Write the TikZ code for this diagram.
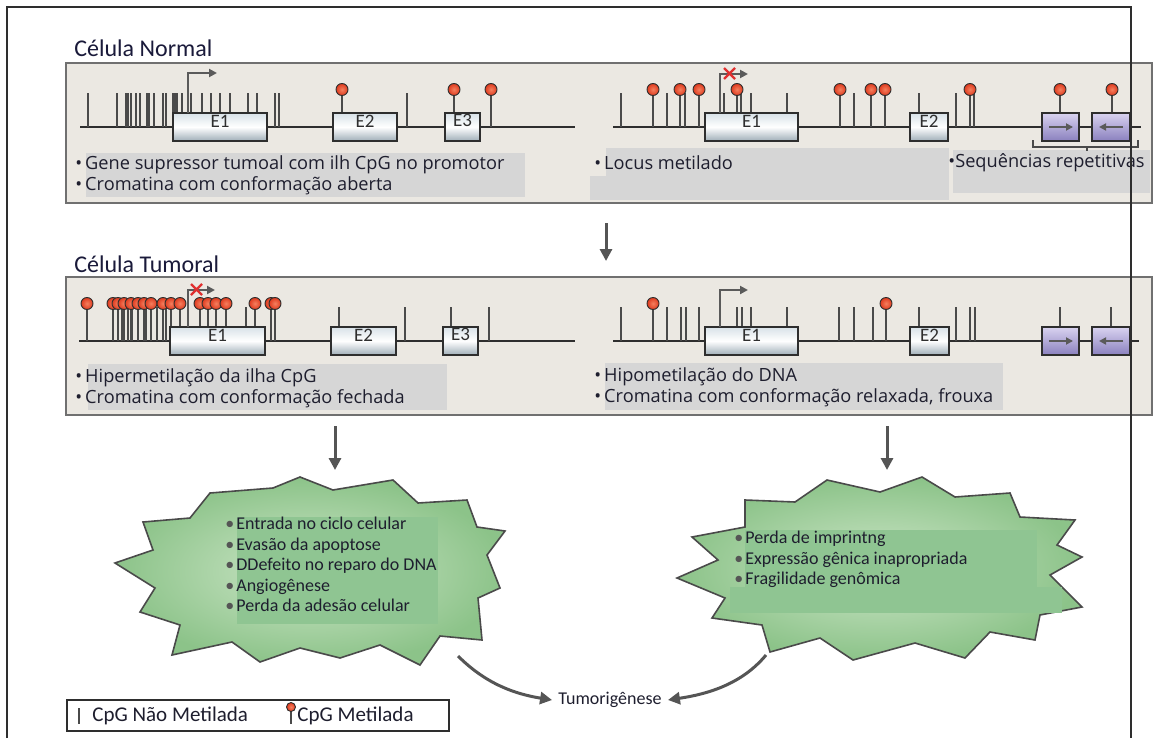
\documentclass[tikz,border=0pt]{standalone}
\usepackage{fontspec}
\setmainfont{Carlito}
\newfontfamily\bulfont{Open Sans}
\usetikzlibrary{arrows.meta, positioning, fit, calc}
\definecolor{panelbg}{HTML}{EBE8E2}
\definecolor{panelln}{HTML}{707070}
\definecolor{hlgray}{HTML}{D6D6D6}
\definecolor{dnaln}{HTML}{2E2E2E}
\definecolor{cpgln}{HTML}{4A4A4A}
\definecolor{cpgin}{HTML}{F5805F}
\definecolor{cpgout}{HTML}{DE3A1E}
\definecolor{exontop}{HTML}{D8E2E8}
\definecolor{exonbot}{HTML}{9FAEB8}
\definecolor{reptop}{HTML}{D9D3F0}
\definecolor{repbot}{HTML}{8A80BE}
\definecolor{tssgray}{HTML}{5A5A5A}
\definecolor{xred}{HTML}{E03030}
\definecolor{txtdark}{HTML}{1E1E2E}
\definecolor{titlecol}{HTML}{1A1A3A}
\definecolor{arrgray}{HTML}{555555}
\definecolor{burstin}{HTML}{CDE6C8}
\definecolor{burstout}{HTML}{8CC389}
\definecolor{burstln}{HTML}{4A4A4A}
\definecolor{effgreen}{HTML}{8FC592}

\begin{document}
\begin{tikzpicture}[x=0.5pt, y=-0.5pt,
      panel/.style={draw=panelln, line width=1pt, fill=panelbg, inner sep=0pt},
      dna/.style={draw=dnaln, line width=1pt},
      cpg/.style={draw=cpgln, line width=0.7pt},
      meth/.style={inner color=cpgin, outer color=cpgout, draw=dnaln, line width=0.45pt},
      exon/.style={draw=dnaln, line width=0.8pt, top color=exontop, bottom color=exonbot,
                   middle color=white, inner sep=0pt, text=dnaln, font=\fontsize{9.5}{10}\selectfont},
      rep/.style={draw=dnaln, line width=0.8pt, top color=reptop, bottom color=repbot, inner sep=0pt},
      reparr/.style={draw=tssgray, line width=1pt, -{Triangle[length=3.5pt,width=3.5pt]}},
      tss/.style={draw=tssgray, line width=1.2pt, -{Triangle[length=4pt,width=4pt]}},
      xmark/.style={draw=xred, line width=1.2pt},
      hl/.style={fill=hlgray},
      bul/.style={anchor=west, inner sep=0pt, text=txtdark, font={\bulfont\fontsize{9.1}{10}\selectfont}},
      title/.style={anchor=west, inner sep=0pt, text=titlecol, font=\fontsize{12}{14}\selectfont},
      bigarr/.style={draw=arrgray, line width=1.5pt, -{Triangle[length=6pt,width=6pt]}},
      burst/.style={draw=burstln, line width=0.8pt, inner color=burstin, outer color=burstout},
      effect/.style={anchor=north west, inner sep=0pt, align=left, text=txtdark,
                     font=\fontsize{9}{10.25}\selectfont}]
    \useasboundingbox (0,0) rectangle (1159,738);
    \fill[white] (0,0) rectangle (1159,738);

    % panels
    \node[title] (tNormal) at (74,48) {Célula Normal};
    \node[panel, fit={(66,63) (1152,203)}] (normal) {};
    \node[title] (tTumor) at (74,264) {Célula Tumoral};
    \node[panel, fit={(66,277) (1152,415)}] (tumoral) {};

    \fill[hl] (86,153) rectangle (525,197);
    \fill[hl] (606,148) rectangle (949,200);
    \fill[hl] (590,176) rectangle (949,200);
    \fill[hl] (953,150) rectangle (1150,193);
    \fill[hl] (88,364) rectangle (447,410);
    \fill[hl] (605,363) rectangle (1003,410);

    % normal cell, tumour suppressor gene
    \begin{scope}[shift={(0,127)}]
      \draw[dna] (80,0) -- (575,0);
      \foreach \x in {88,117,126,128,131,136,140,147,149,154,163,166,173,175,177,182,
                      191,202,211,220,230,248,257,275,279,407}
        \draw[cpg] (\x,0) -- (\x,-34);
      \foreach \x in {342,454,491} {
        \draw[cpg] (\x,0) -- (\x,-33);
        \shadedraw[meth] (\x,-37.5) circle (6);
      }
      \node[exon, fit={(173,-14) (267,14)}] (nE1) {E1};
      \node[exon, fit={(333,-14) (397,14)}] (nE2) {E2};
      \node[exon, fit={(445,-14) (480,14)}] (nE3) {E3};
      \draw[tss] (188,-14) -- (188,-54) -- (217,-54);
    \end{scope}

    % normal cell, methylated locus and repeats
    \begin{scope}[shift={(0,127)}]
      \draw[dna] (613,0) -- (1141,0);
      \foreach \x in {621,667,685,724,741,751,787,854,919,956,974}
        \draw[cpg] (\x,0) -- (\x,-34);
      \foreach \x in {653,680,699,737,840,871,885,970,1060,1112} {
        \draw[cpg] (\x,0) -- (\x,-33);
        \shadedraw[meth] (\x,-37.5) circle (6);
      }
      \node[exon, fit={(705,-14) (798,14)}] (mE1) {E1};
      \node[exon, fit={(910,-14) (948,14)}] (mE2) {E2};
      \node[rep, fit={(1042,-14) (1079,14)}] (mR1) {};
      \node[rep, fit={(1092,-14) (1130,14)}] (mR2) {};
      \draw[reparr] (1049,0) -- (1073,0);
      \draw[reparr] (1123,0) -- (1099,0);
      \draw[cpgln, line width=0.7pt] (1033,13) -- (1033,20) -- (1138,20) -- (1138,13)
                                     (1087,20) -- (1087,24);
      \draw[tss] (720,-14) -- (720,-53) -- (748,-53);
      \draw[xmark] (724,-59) -- (735,-48) (724,-48) -- (735,-59);
    \end{scope}

    % tumour cell, hypermethylated island
    \begin{scope}[shift={(0,341)}]
      \draw[dna] (79,0) -- (575,0);
      \foreach \x in {122,128,132,146,157,166,246,339,405,451,489}
        \draw[cpg] (\x,0) -- (\x,-34);
      \foreach \x in {87,113,118,124,131,138,144,151,163,171,180,200,208,216,226,255,271,275} {
        \draw[cpg] (\x,0) -- (\x,-33);
        \shadedraw[meth] (\x,-37.5) circle (6);
      }
      \node[exon, fit={(170,-14) (265,14)}] (hE1) {E1};
      \node[exon, fit={(331,-14) (396,14)}] (hE2) {E2};
      \node[exon, fit={(443,-14) (478,14)}] (hE3) {E3};
      \draw[tss] (188,-14) -- (188,-51) -- (215,-51);
      \draw[xmark] (191,-57) -- (202,-46) (191,-46) -- (202,-57);
    \end{scope}

    % tumour cell, hypomethylation
    \begin{scope}[shift={(0,341)}]
      \draw[dna] (613,0) -- (1139,0);
      \foreach \x in {621,667,681,686,699,737,742,751,787,839,854,873,919,956,970,975,1060,1111}
        \draw[cpg] (\x,0) -- (\x,-34);
      \foreach \x in {653,886} {
        \draw[cpg] (\x,0) -- (\x,-33);
        \shadedraw[meth] (\x,-37.5) circle (6);
      }
      \node[exon, fit={(705,-14) (798,14)}] (oE1) {E1};
      \node[exon, fit={(910,-14) (949,14)}] (oE2) {E2};
      \node[rep, fit={(1042,-14) (1079,14)}] (oR1) {};
      \node[rep, fit={(1092,-14) (1130,14)}] (oR2) {};
      \draw[reparr] (1049,0) -- (1073,0);
      \draw[reparr] (1123,0) -- (1099,0);
      \draw[tss] (720,-14) -- (720,-51) -- (748,-51);
    \end{scope}

    % panel texts
    \node[bul] (g1) at (75,165) {\textbullet\hspace{1.5pt}Gene supressor tumoal com ilh CpG no promotor};
    \node[bul] (g2) at (75,186) {\textbullet\hspace{1.5pt}Cromatina com conformação aberta};
    \node[bul] (l1) at (594,163) {\textbullet\hspace{1.5pt}Locus metilado};
    \node[bul] (s1) at (948,163) {\textbullet Sequências repetitivas};
    \node[bul] (h1) at (75,378) {\textbullet\hspace{1.5pt}Hipermetilação da ilha CpG};
    \node[bul] (h2) at (75,399) {\textbullet\hspace{1.5pt}Cromatina com conformação fechada};
    \node[bul] (o1) at (594,377) {\textbullet\hspace{1.5pt}Hipometilação do DNA};
    \node[bul] (o2) at (594,398) {\textbullet\hspace{1.5pt}Cromatina com conformação relaxada, frouxa};

    % bursts
    \shadedraw[burst] (300,477) -- (333,490) -- (393,480) -- (418,503) -- (467,500) -- (477,527)
      -- (505,531) -- (487,555) -- (500,588) -- (478,598) -- (482,640) -- (440,636) -- (420,665)
      -- (380,645) -- (340,658) -- (300,648) -- (260,662) -- (232,642) -- (172,655) -- (180,625)
      -- (140,612) -- (155,588) -- (115,563) -- (153,550) -- (143,522) -- (190,518) -- (210,493)
      -- (273,488) -- cycle;
    \shadedraw[burst] (827,480) -- (880,492) -- (922,477) -- (955,497) -- (1010,493) -- (1020,517)
      -- (1075,520) -- (1057,545) -- (1082,557) -- (1050,575) -- (1082,607) -- (1040,615)
      -- (1035,640) -- (990,632) -- (965,658) -- (915,643) -- (853,660) -- (820,638) -- (770,652)
      -- (762,625) -- (712,618) -- (725,598) -- (677,578) -- (718,560) -- (692,537) -- (745,527)
      -- (745,500) -- (795,502) -- cycle;
    \fill[effgreen] (237,517) rectangle (438,624);
    \fill[effgreen] (745,530) rectangle (1037,590);
    \fill[effgreen] (730,587) rectangle (1062,613);
    \node[effect] (effL) at (225,517) {%
      \textcolor{arrgray}{\textbullet}\hspace{1pt}Entrada no ciclo celular\\
      \textcolor{arrgray}{\textbullet}\hspace{1pt}Evasão da apoptose\\
      \textcolor{arrgray}{\textbullet}\hspace{1pt}DDefeito no reparo do DNA\\
      \textcolor{arrgray}{\textbullet}\hspace{1pt}Angiogênese\\
      \textcolor{arrgray}{\textbullet}\hspace{1pt}Perda da adesão celular};
    \node[effect] (effR) at (734,531) {%
      \textcolor{arrgray}{\textbullet}\hspace{1pt}Perda de imprintng\\
      \textcolor{arrgray}{\textbullet}\hspace{1pt}Expressão gênica inapropriada\\
      \textcolor{arrgray}{\textbullet}\hspace{1pt}Fragilidade genômica};

    \node[inner sep=3pt, text=txtdark, font=\fontsize{9}{10}\selectfont] (tum) at (610,700) {Tumorigênese};

    % legend
    \node[draw=dnaln, line width=0.8pt, fill=white, fit={(67,700) (449,731)}, inner sep=0pt] (legend) {};
    \draw[cpg, line width=0.9pt] (79,708) -- (79,724);
    \node[anchor=west, inner sep=0pt, text=txtdark, font=\fontsize{10.5}{12}\selectfont] (lgU) at (92,716) {CpG Não Metilada};
    \draw[cpg] (291,724) -- (291,711);
    \shadedraw[meth] (291,707) circle (4.5);
    \node[anchor=west, inner sep=0pt, text=txtdark, font=\fontsize{10.5}{12}\selectfont] (lgM) at (297,716) {CpG Metilada};

    % arrows
    \coordinate (mid) at (606,240);
    \coordinate (lin) at (335,470);
    \coordinate (rin) at (887,470);
    \coordinate (lout) at (458,656);
    \coordinate (rout) at (766,655);
    \draw[bigarr, shorten <=9.5pt, shorten >=7.5pt] (normal.south -| mid) -- (tumoral.north -| mid);
    \draw[bigarr, shorten <=5pt] (tumoral.south -| lin) -- (lin);
    \draw[bigarr, shorten <=5pt] (tumoral.south -| rin) -- (rin);
    \draw[bigarr] (lout) .. controls (486,684) and (515,694) .. (tum.west);
    \draw[bigarr] (rout) .. controls (742,684) and (708,694) .. (tum.east);

    % frame
    \draw[dnaln, line width=1pt] (7,738) -- (7,7) -- (1131,7) -- (1131,738);
  \end{tikzpicture}
\end{document}
